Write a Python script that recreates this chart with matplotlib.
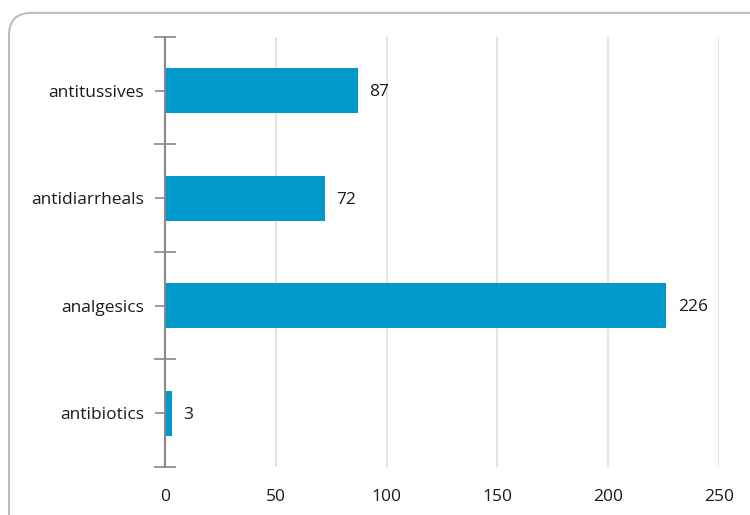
import matplotlib.pyplot as plt
import numpy as np
from matplotlib.patches import FancyBboxPatch
from matplotlib.ticker import FixedLocator

# 数据
categories = ["antibiotics", "analgesics", "antidiarrheals", "antitussives"]
values = [3, 226, 72, 87]
x_ticks = [0, 50, 100, 150, 200, 250]

plt.rcParams['font.family'] = ['Open Sans', 'DejaVu Sans']

fig = plt.figure(figsize=(7.5, 5.15), dpi=100)
ax = fig.add_axes([0.22, 0.0932, 0.7387, 0.835])

# 外框圆角
frame = FancyBboxPatch((0.012, -0.05), 1.05, 1.025, transform=fig.transFigure,
                       boxstyle="round,pad=0,rounding_size=0.03", fc='none',
                       ec='#bdbdbd', lw=1.5, clip_on=False, mutation_aspect=750/515)
fig.patches.append(frame)

y = np.arange(len(categories))
ax.barh(y, values, height=0.42, color='#0099cc', zorder=3)
for yi, v in zip(y, values):
    ax.annotate(str(v), (v, yi), xytext=(8.5, -1), textcoords='offset points',
                va='center', ha='left', fontsize=12.5, color='#1a1a1a')

ax.set_xlim(0, 250)
ax.set_ylim(-0.5, len(categories) - 0.5)
ax.set_xticks(x_ticks)
ax.set_yticks(y)
ax.set_yticklabels(categories)
ax.yaxis.set_minor_locator(FixedLocator(np.arange(-0.5, len(categories), 1.0)))

ax.tick_params(axis='x', length=0, labelsize=12.5, pad=16, colors='#1a1a1a')
ax.tick_params(axis='y', which='major', length=7, width=1.2, color='#888888',
               labelsize=12.5, pad=8, labelcolor='#1a1a1a')
ax.tick_params(axis='y', which='minor', direction='inout', length=16, width=1.2, color='#888888')

for s in ['top', 'right', 'bottom']:
    ax.spines[s].set_visible(False)
ax.spines['left'].set_color('#888888')
ax.spines['left'].set_linewidth(1.5)
ax.spines['left'].set_zorder(4)

ax.grid(axis='x', color='#dedede', lw=1.2, zorder=0)
ax.set_axisbelow(True)

fig.savefig('out.png', dpi=100)
